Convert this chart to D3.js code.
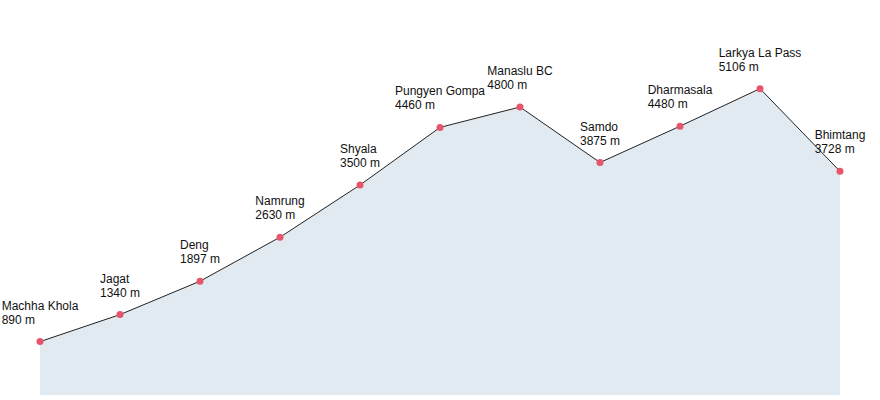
<!DOCTYPE html>
<html>
<head>
<meta charset="utf-8">
<script src="https://cdn.jsdelivr.net/npm/d3@7"></script>
<style>
  body { margin: 0; background: #fff; }
  svg { display: block; font-family: 'Liberation Sans', Arial, sans-serif; }
  .stop-label { font-size: 12px; fill: #111; }
</style>
</head>
<body>
<div id="chart"></div>
<script>
const stops = ['Machha Khola', 'Jagat', 'Deng', 'Namrung', 'Shyala', 'Pungyen Gompa',
  'Manaslu BC', 'Samdo', 'Dharmasala', 'Larkya La Pass', 'Bhimtang']
const elevations = [890, 1340, 1897, 2630, 3500, 4460, 4800, 3875, 4480, 5106, 3728]

const width = 880
const height = 400
const margin = { top: 35, right: 40, bottom: 5, left: 40 }

const data = stops.map((name, i) => ({ name, elev: elevations[i] }))

const svg = d3.select('#chart').append('svg').attr('width', width).attr('height', height)

const x = d3.scalePoint().domain(stops).range([margin.left, width - margin.right])
const y = d3.scaleLinear().domain([0, 6000]).range([height - margin.bottom, margin.top])

const area = d3.area()
  .x((d) => x(d.name))
  .y0(y(0))
  .y1((d) => y(d.elev))

const line = d3.line()
  .x((d) => x(d.name))
  .y((d) => y(d.elev))

svg.append('path').datum(data).attr('d', area).attr('fill', '#e1e9f1')
svg.append('path').datum(data).attr('d', line)
  .attr('fill', 'none').attr('stroke', '#222').attr('stroke-width', 1)

svg.append('g').selectAll('circle').data(data).join('circle')
  .attr('cx', (d) => x(d.name))
  .attr('cy', (d) => y(d.elev))
  .attr('r', 3.5)
  .attr('fill', '#e8546b')

// labels: left-aligned block, centred over the point
const labels = svg.append('g').selectAll('g').data(data).join('g')
labels.each(function (d) {
  const g = d3.select(this)
  const t1 = g.append('text').attr('class', 'stop-label').text(d.name)
  const t2 = g.append('text').attr('class', 'stop-label').text(`${d.elev} m`)
  const w = Math.max(t1.node().getComputedTextLength(), t2.node().getComputedTextLength())
  const lx = x(d.name) - w / 2
  const py = y(d.elev)
  t1.attr('x', lx).attr('y', py - 32)
  t2.attr('x', lx).attr('y', py - 18)
})
</script>
</body>
</html>
